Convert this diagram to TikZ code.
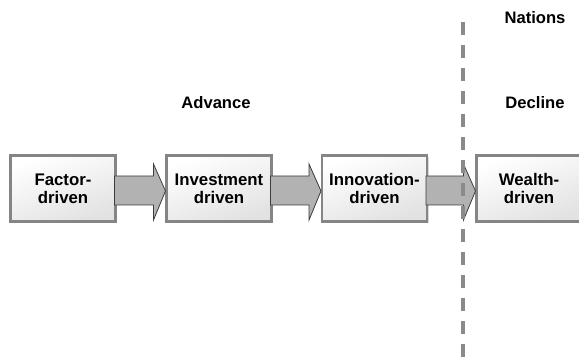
\documentclass[tikz,border=0pt]{standalone}
\usepackage{fontspec}
\setmainfont{Liberation Sans}
\usetikzlibrary{calc,shadows}

\definecolor{boxborder}{HTML}{858585}
\definecolor{boxfill}{HTML}{E2E2E2}
\definecolor{arrowfill}{HTML}{B2B2B2}
\definecolor{arrowline}{HTML}{3C3C3C}
\definecolor{divider}{HTML}{8A8A8A}

\tikzset{
  stagebox/.style={draw=boxborder, line width=2.6pt, rectangle,
    minimum width=105pt, minimum height=66pt, inner sep=0pt, outer sep=0pt,
    top color=white, bottom color=boxfill, shading angle=20,
    align=center, font=\bfseries\fontsize{16.8}{18}\selectfont,
    drop shadow={shadow xshift=1.5pt, shadow yshift=-1.8pt, fill=black!25, opacity=0.6}},
  stagearrow/.style={fill=arrowfill, draw=arrowline, line width=0.8pt, line join=miter},
  phase/.style={font=\bfseries\fontsize{16.6}{18}\selectfont, inner sep=0pt},
  divline/.style={draw=divider, line width=4pt, dash pattern=on 13pt off 10pt}
}

% joins two stage boxes with a block arrow
\newcommand\stagelink[2]{%
  \path[stagearrow]
    ($(#1.east)+(-1,12.5)$) -- ($(#2.west)+(-13,12.5)$) --
    ($(#2.west)+(-13,24.5)$) -- ($(#2.west)+(-1,-2.5)$) --
    ($(#2.west)+(-13,-31.5)$) -- ($(#2.west)+(-13,-16.5)$) --
    ($(#1.east)+(-1,-16.5)$) -- cycle;}

\begin{document}
\begin{tikzpicture}[x=1pt,y=1pt]
  \useasboundingbox (0,0) rectangle (579,358);

  % development stages
  \node[stagebox] (factor)     at (63,169.5)  {Factor-\\driven};
  \node[stagebox] (investment) at (219,169.5) {Investment\\driven};
  \node[stagebox] (innovation) at (374.5,169.5) {Innovation-\\driven};
  \node[stagebox] (wealth)     at (529,169.5) {Wealth-\\driven};

  \stagelink{factor}{investment}
  \stagelink{investment}{innovation}
  \stagelink{innovation}{wealth}

  % boundary between advance and decline
  \coordinate (divtop) at (463,336);
  \coordinate (divbot) at (463,0);
  \draw[divline] (divtop) -- (divbot);

  % phase labels
  \node[phase] (nations) at (535,340) {Nations};
  \node[phase] (advance) at (216,255) {Advance};
  \node[phase] (decline) at (535,255) {Decline};
\end{tikzpicture}
\end{document}
